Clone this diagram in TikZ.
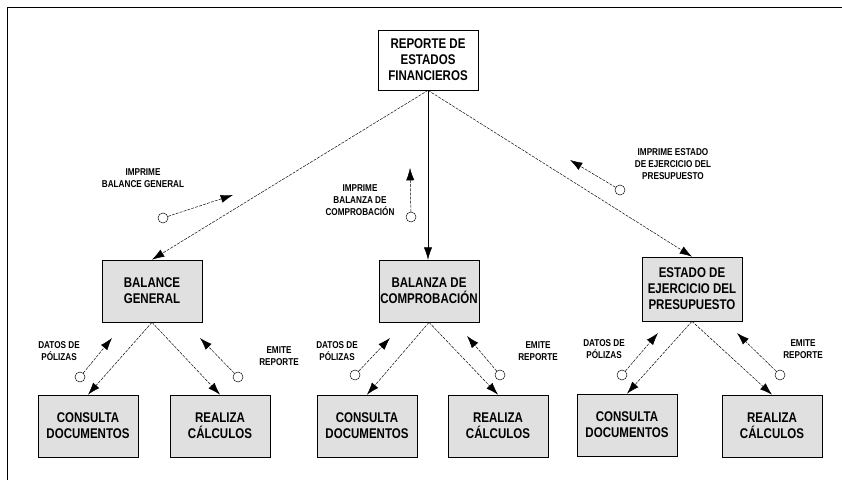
\documentclass[tikz,border=0pt]{standalone}
\usepackage{fontspec}
\setmainfont[FakeStretch=0.82]{Liberation Sans}
\usetikzlibrary{arrows.meta}

\begin{document}
\begin{tikzpicture}[x=0.03cm,y=-0.03cm,
   modulo/.style={draw,semithick,fill=black!12,minimum width=3cm,minimum height=1.86cm,
      inner sep=1pt,align=center,font=\bfseries\fontsize{12}{13.6}\selectfont},
   flujo/.style={thin,dash pattern=on 2.5pt off 1pt,-{Latex[length=10.5pt,width=7pt]}},
   dato/.style={draw,thin,circle,minimum size=0.3cm,inner sep=0pt},
   etiq/.style={align=center,font=\bfseries\fontsize{8.5}{10.5}\selectfont}]
\useasboundingbox (0,0) rectangle (842,480);
% marco
\draw[thick] (842,7) -- (7,7) -- (7,480);

% modulos
\node[modulo,fill=white,minimum height=1.8cm] (rep) at (428,60) {REPORTE DE\\ESTADOS\\FINANCIEROS};
\node[modulo] (bal) at (152,291) {BALANCE\\GENERAL};
\node[modulo] (blz) at (429,291) {BALANZA DE\\COMPROBACI\'ON};
\node[modulo,minimum height=1.92cm] (est) at (692,289) {ESTADO DE\\EJERCICIO DEL\\PRESUPUESTO};
\node[modulo] (cons1) at (88,426) {CONSULTA\\DOCUMENTOS};
\node[modulo] (calc1) at (220,426) {REALIZA\\C\'ALCULOS};
\node[modulo] (cons2) at (367,426) {CONSULTA\\DOCUMENTOS};
\node[modulo] (calc2) at (498,426) {REALIZA\\C\'ALCULOS};
\node[modulo] (cons3) at (627,425) {CONSULTA\\DOCUMENTOS};
\node[modulo] (calc3) at (772,426) {REALIZA\\C\'ALCULOS};

% llamadas
\draw[flujo] (rep.south) -- (bal.north);
\draw[flujo,solid] (rep.south) -- (rep.south |- blz.north);
\draw[flujo] (rep.south) -- (est.north);
\foreach \p/\a/\b in {bal/cons1/calc1,blz/cons2/calc2,est/cons3/calc3}{
   \draw[flujo] (\p.south) -- (\a.north);
   \draw[flujo] (\p.south) -- (\b.north);
}

% parametros
\node[dato] (d1) at (163,218) {};
\coordinate (t1) at (233,195);
\node[dato] (d2) at (411,217) {};
\coordinate (t2) at (410,168);
\node[dato] (d3) at (620,190) {};
\coordinate (t3) at (570,160);
\node[dato] (d4) at (80,377) {};
\coordinate (t4) at (112,338);
\node[dato] (d5) at (238,377) {};
\coordinate (t5) at (200,338);
\node[dato] (d6) at (355,375) {};
\coordinate (t6) at (390,338);
\node[dato] (d7) at (500,375) {};
\coordinate (t7) at (467,336);
\node[dato] (d8) at (622,375) {};
\coordinate (t8) at (658,333);
\node[dato] (d9) at (780,375) {};
\coordinate (t9) at (737,333);
\foreach \i in {1,...,9}
   \draw[flujo] (d\i) -- (t\i);

% etiquetas
\node[etiq] (e1) at (143,178) {IMPRIME\\BALANCE GENERAL};
\node[etiq] (e2) at (360,200) {IMPRIME\\BALANZA DE\\COMPROBACI\'ON};
\node[etiq] (e3) at (673,164) {IMPRIME ESTADO\\DE EJERCICIO DEL\\PRESUPUESTO};
\node[etiq] (e4) at (59,351) {DATOS DE\\P\'OLIZAS};
\node[etiq] (e5) at (279,356) {EMITE\\REPORTE};
\node[etiq] (e6) at (337,351) {DATOS DE\\P\'OLIZAS};
\node[etiq] (e7) at (538,351) {EMITE\\REPORTE};
\node[etiq] (e8) at (604,349) {DATOS DE\\P\'OLIZAS};
\node[etiq] (e9) at (803,349) {EMITE\\REPORTE};
\end{tikzpicture}
\end{document}
